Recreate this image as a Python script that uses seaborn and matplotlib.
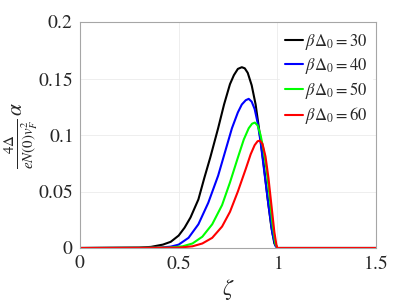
import numpy as np
import pandas as pd
import matplotlib
matplotlib.use("Agg")
import matplotlib.pyplot as plt
import seaborn as sns

# ---- data ----
zeta_30 = [0, 0.30, 0.36, 0.42, 0.46, 0.50, 0.53, 0.56, 0.60, 0.63, 0.66, 0.70, 0.73, 0.76, 0.78, 0.80, 0.82, 0.835, 0.85, 0.87, 0.89, 0.91, 0.93, 0.95, 0.97, 0.985, 1.0, 1.5]
alpha_30 = [0, 0.0003, 0.001, 0.003, 0.0055, 0.011, 0.018, 0.027, 0.043, 0.062, 0.080, 0.106, 0.127, 0.145, 0.153, 0.1585, 0.160, 0.159, 0.155, 0.144, 0.127, 0.102, 0.075, 0.045, 0.018, 0.004, 0, 0]

zeta_40 = [0, 0.40, 0.46, 0.50, 0.55, 0.60, 0.65, 0.70, 0.74, 0.77, 0.80, 0.82, 0.84, 0.855, 0.87, 0.885, 0.90, 0.915, 0.935, 0.955, 0.975, 0.99, 1.0, 1.5]
alpha_40 = [0, 0.0003, 0.0012, 0.003, 0.009, 0.021, 0.040, 0.064, 0.088, 0.106, 0.120, 0.127, 0.1308, 0.132, 0.1295, 0.123, 0.111, 0.094, 0.066, 0.038, 0.013, 0.002, 0, 0]

zeta_50 = [0, 0.45, 0.52, 0.57, 0.62, 0.67, 0.72, 0.76, 0.80, 0.83, 0.855, 0.872, 0.886, 0.90, 0.915, 0.93, 0.945, 0.96, 0.975, 0.99, 1.0, 1.5]
alpha_50 = [0, 0.0003, 0.0015, 0.004, 0.010, 0.021, 0.038, 0.058, 0.080, 0.096, 0.106, 0.110, 0.111, 0.1085, 0.100, 0.087, 0.070, 0.047, 0.022, 0.004, 0, 0]

zeta_60 = [0, 0.50, 0.57, 0.62, 0.67, 0.72, 0.76, 0.80, 0.84, 0.865, 0.885, 0.90, 0.912, 0.925, 0.94, 0.955, 0.97, 0.985, 0.995, 1.0, 1.5]
alpha_60 = [0, 0.0003, 0.0015, 0.004, 0.009, 0.019, 0.032, 0.050, 0.070, 0.083, 0.091, 0.0945, 0.095, 0.092, 0.081, 0.062, 0.038, 0.014, 0.003, 0, 0]

labels = [r"$\beta\Delta_0 = 30$", r"$\beta\Delta_0 = 40$", r"$\beta\Delta_0 = 50$", r"$\beta\Delta_0 = 60$"]
colors = ["#000000", "#0000ff", "#00ff00", "#ff0000"]

x_ticks = [0, 0.5, 1, 1.5]
x_ticklabels = ["0", "0.5", "1", "1.5"]
y_ticks = [0, 0.05, 0.1, 0.15, 0.2]
y_ticklabels = ["0", "0.05", "0.1", "0.15", "0.2"]

frames = []
for z, a, lab in zip([zeta_30, zeta_40, zeta_50, zeta_60],
                     [alpha_30, alpha_40, alpha_50, alpha_60], labels):
    frames.append(pd.DataFrame({"zeta": z, "alpha": a, "series": lab}))
df = pd.concat(frames, ignore_index=True)

sns.set_theme(style="white")
plt.rcParams["font.family"] = "serif"
plt.rcParams["font.serif"] = ["Liberation Serif", "DejaVu Serif"]
plt.rcParams["mathtext.fontset"] = "stix"

fig = plt.figure(figsize=(4.15, 3.02), dpi=100)
ax = fig.add_axes([80 / 415, 1 - 248 / 302, 296 / 415, 226 / 302])

sns.lineplot(data=df, x="zeta", y="alpha", hue="series", hue_order=labels,
             palette=colors, linewidth=1.5, ax=ax, sort=False, estimator=None)

ax.set_xlim(0, 1.5)
ax.set_ylim(0, 0.2)
ax.set_xticks(x_ticks)
ax.set_xticklabels(["$%s$" % t for t in x_ticklabels])
ax.set_yticks(y_ticks)
ax.set_yticklabels(["$%s$" % t for t in y_ticklabels])
ax.tick_params(axis="both", labelsize=14, length=0, pad=5, colors="#262626")
ax.grid(True, color="#ebebeb", linewidth=0.6)
ax.set_axisbelow(True)
for s in ax.spines.values():
    s.set_color("#a6a6a6")
    s.set_linewidth(0.8)

ax.set_xlabel(r"$\zeta$", fontsize=16, labelpad=3)
ax.set_ylabel(r"$\frac{4\Delta}{eN(0)v_F^2}\,\alpha$", fontsize=15.5, va="center")
ax.yaxis.set_label_coords(-0.2, 0.5)

leg = ax.legend(loc="upper right", fontsize=12, frameon=True, handlelength=1.05,
                handletextpad=0.15, labelspacing=0.25, borderpad=0.3,
                bbox_to_anchor=(1.005, 1.0), borderaxespad=0.3, fancybox=False)
leg.get_frame().set_edgecolor("white")
leg.get_frame().set_facecolor("white")
leg.get_frame().set_alpha(1)

fig.savefig("out.png", dpi=100)
